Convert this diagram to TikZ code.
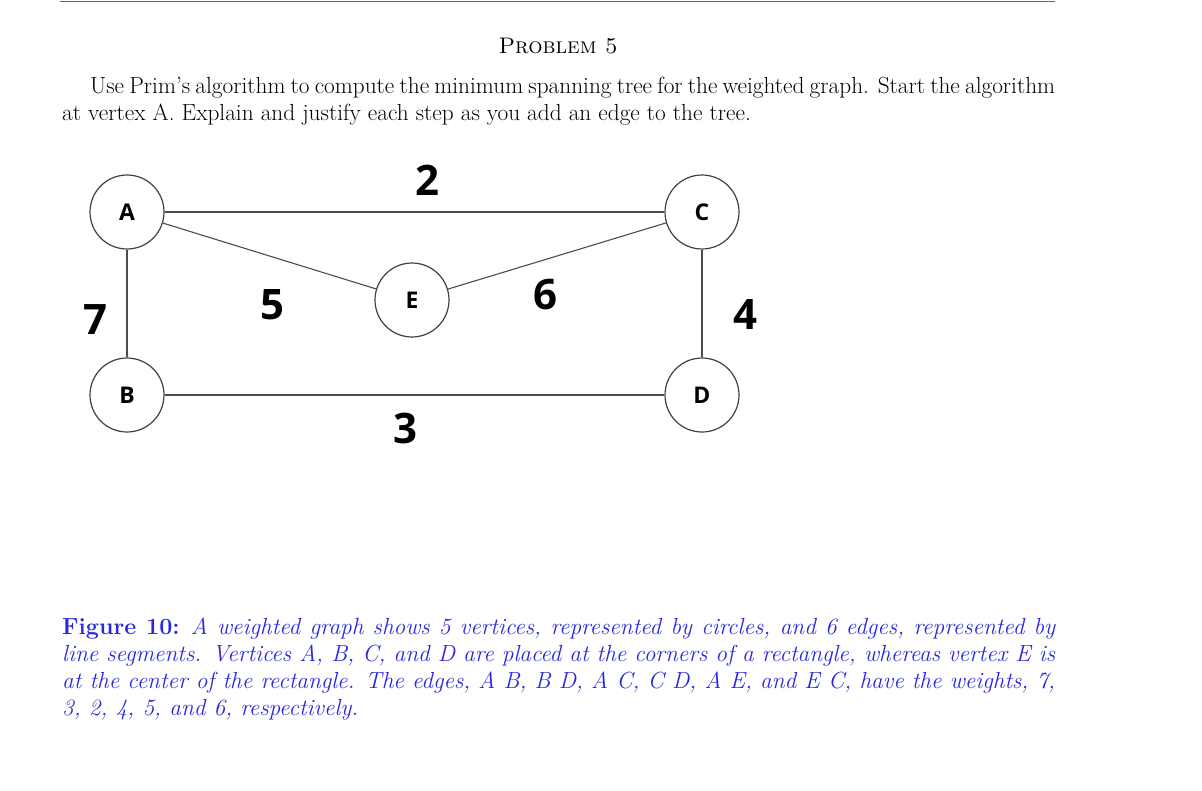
\documentclass[tikz,border=0pt]{standalone}
\usepackage{fontspec}
\newfontfamily\lblfont{Open Sans}
\definecolor{capblue}{RGB}{40,40,220}
\begin{document}
\begin{tikzpicture}[x=1pt,y=-1pt,
  vert/.style={circle,draw=black!75,line width=1.2pt,minimum size=74pt,inner sep=0pt,font=\lblfont\bfseries\fontsize{23}{23}\selectfont},
  wt/.style={font=\lblfont\bfseries\fontsize{42}{42}\selectfont},
  edge/.style={draw=black!70,line width=1.1pt}]
\useasboundingbox (0,0) rectangle (1202,790);
\draw[black!60,line width=1pt] (60,1) -- (1055,1);
\node (title) at (558,46) {\fontsize{22.5}{24}\selectfont\textsc{Problem 5}};
\node[anchor=north west,inner sep=0pt,text width=993pt,align=justify] (para) at (62,77)
  {\fontsize{23.3}{27}\selectfont\parindent=28pt\indent Use Prim's algorithm to compute the minimum spanning tree for the weighted graph. Start the algorithm at vertex A. Explain and justify each step as you add an edge to the tree.\par};
\node[vert] (A) at (127,212) {A};
\node[vert] (C) at (702,212) {C};
\node[vert] (B) at (127,395) {B};
\node[vert] (D) at (702,395) {D};
\node[vert] (E) at (412,300) {E};
\draw[edge] (A) -- (C);
\draw[edge] (A) -- (B);
\draw[edge] (B) -- (D);
\draw[edge] (C) -- (D);
\draw[edge] (A) -- (E);
\draw[edge] (E) -- (C);
\node[wt] (w2) at (427,180) {2};
\node[wt] (w7) at (95,320) {7};
\node[wt] (w5) at (272,305) {5};
\node[wt] (w6) at (545,295) {6};
\node[wt] (w4) at (745,315) {4};
\node[wt] (w3) at (405,428) {3};
\node[anchor=north west,inner sep=0pt,text width=993pt,align=justify,text=capblue] (cap) at (62,618)
  {\fontsize{23.3}{27}\selectfont\textbf{Figure 10:} \textit{A weighted graph shows 5 vertices, represented by circles, and 6 edges, represented by line segments. Vertices A, B, C, and D are placed at the corners of a rectangle, whereas vertex E is at the center of the rectangle. The edges, A B, B D, A C, C D, A E, and E C, have the weights, 7, 3, 2, 4, 5, and 6, respectively.}\par};
\end{tikzpicture}
\end{document}
